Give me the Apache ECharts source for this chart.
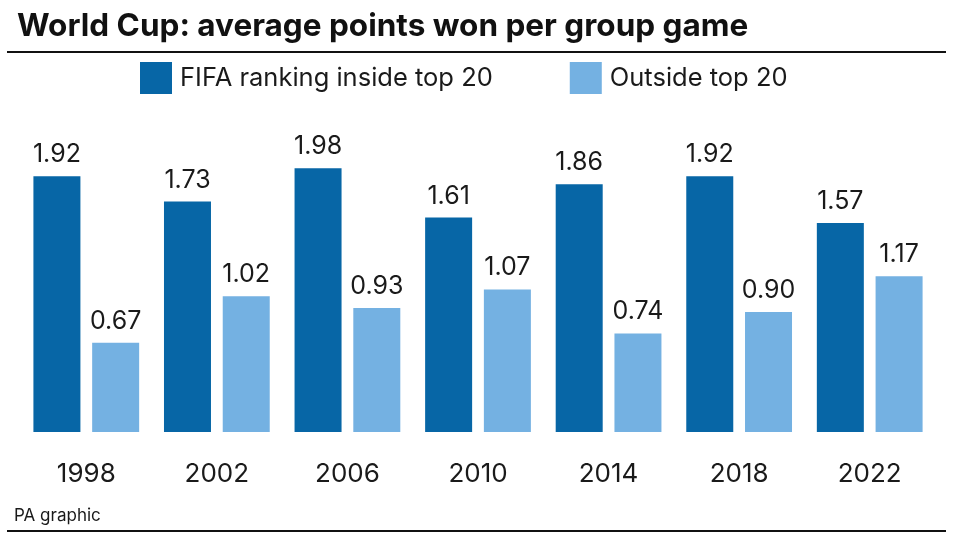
<!DOCTYPE html>
<html><head><meta charset="utf-8">
<script src="https://cdn.jsdelivr.net/npm/echarts@6/dist/echarts.min.js"></script>
<style>html,body{margin:0;padding:0;background:#fff}#c{width:953px;height:536px}</style>
</head><body><div id="c"></div>
<script>
const years = ['1998','2002','2006','2010','2014','2018','2022'];
const insideTop20 = [1.92, 1.73, 1.98, 1.61, 1.86, 1.92, 1.57];
const outsideTop20 = [0.67, 1.02, 0.93, 1.07, 0.74, 0.90, 1.17];
const seriesNames = ['FIFA ranking inside top 20', 'Outside top 20'];

const FONT = 'Inter, "Liberation Sans", sans-serif';
const chart = echarts.init(document.getElementById('c'));
const lbl = {show:true, position:'top', distance:9, color:'#1a1a1a', fontSize:25, fontFamily:FONT,
  formatter: p => p.value.toFixed(2)};
chart.setOption({
  animation:false,
  title:{text:'World Cup: average points won per group game', left:12, top:6,
    textStyle:{fontSize:31.5, fontWeight:'bold', color:'#111', fontFamily:FONT}},
  legend:{top:57, left:135, itemWidth:32, itemHeight:32, itemGap:77, icon:'rect',
    textStyle:{fontSize:25.5, color:'#1a1a1a', fontFamily:FONT, padding:[0,0,0,3]}},
  grid:{left:21, right:18, top:99, bottom:104},
  xAxis:{type:'category', data:years, axisLine:{show:false}, axisTick:{show:false},
    axisLabel:{fontSize:26, color:'#1a1a1a', margin:29, fontFamily:FONT}},
  yAxis:{type:'value', min:0, max:2.5, show:false, splitLine:{show:false}},
  series:[
    {name:seriesNames[0], type:'bar', data:insideTop20, barWidth:47, barGap:'25%', itemStyle:{color:'#0766a6'}, label:lbl},
    {name:seriesNames[1], type:'bar', data:outsideTop20, barWidth:47, itemStyle:{color:'#74b1e2'}, label:lbl}
  ],
  graphic:[
    {type:'rect', shape:{x:7, y:51, width:939, height:2}, style:{fill:'#111'}},
    {type:'rect', shape:{x:7, y:530, width:939, height:2}, style:{fill:'#111'}},
    {type:'text', left:14, top:507, style:{text:'PA graphic', fontSize:17, fill:'#1a1a1a', fontFamily:FONT}}
  ]
});
</script></body></html>
